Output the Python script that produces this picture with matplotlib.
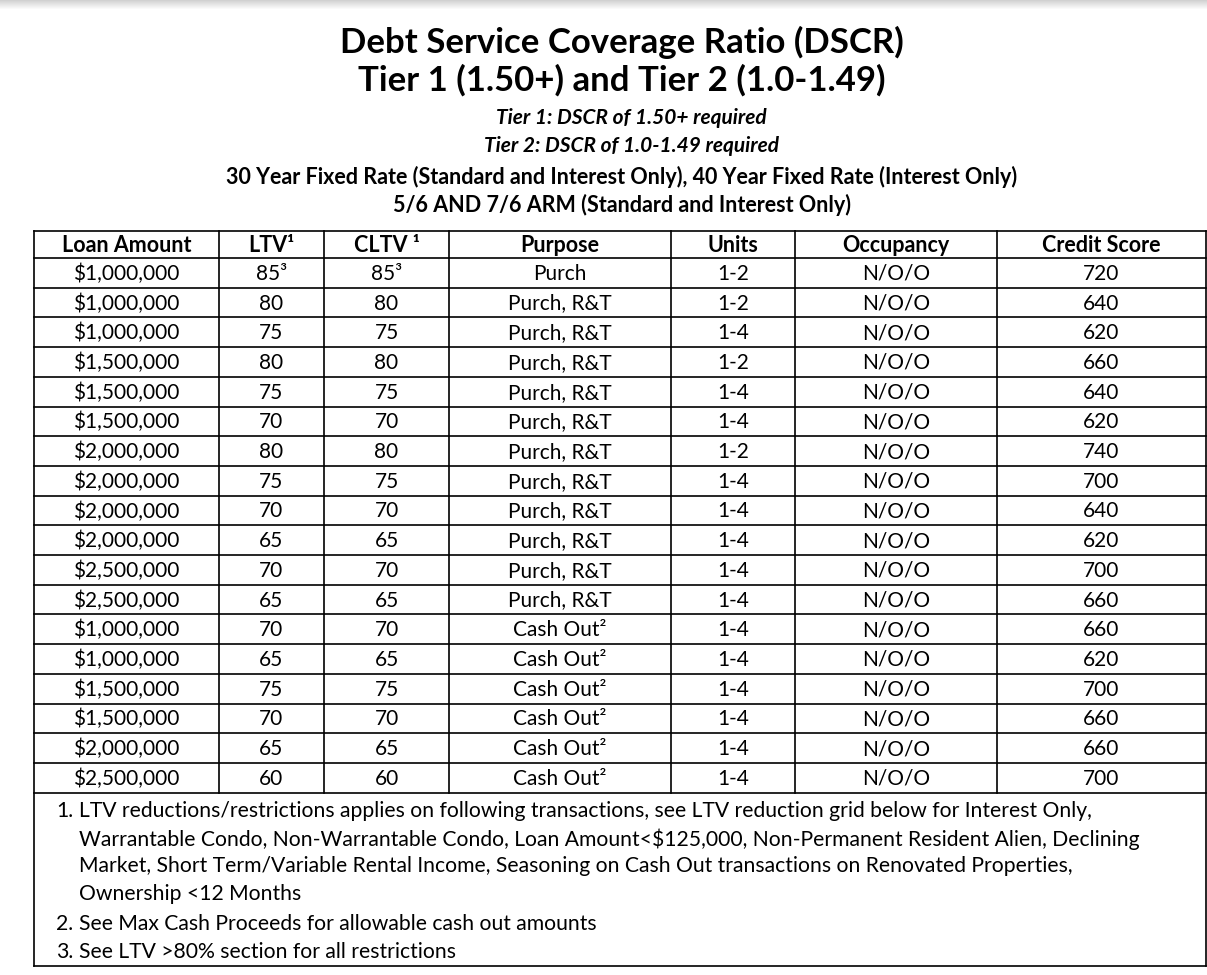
import matplotlib.pyplot as plt
import numpy as np

plt.rcParams['font.family'] = ['Lato', 'DejaVu Sans']
plt.rcParams['text.parse_math'] = False

# table data
headers = ["Loan Amount", "LTV¹", "CLTV ¹", "Purpose", "Units", "Occupancy", "Credit Score"]
loan_amounts = ["$1,000,000", "$1,000,000", "$1,000,000", "$1,500,000", "$1,500,000", "$1,500,000",
                "$2,000,000", "$2,000,000", "$2,000,000", "$2,000,000", "$2,500,000", "$2,500,000",
                "$1,000,000", "$1,000,000", "$1,500,000", "$1,500,000", "$2,000,000", "$2,500,000"]
ltv = ["85³", "80", "75", "80", "75", "70", "80", "75", "70", "65", "70", "65",
       "70", "65", "75", "70", "65", "60"]
cltv = ["85³", "80", "75", "80", "75", "70", "80", "75", "70", "65", "70", "65",
        "70", "65", "75", "70", "65", "60"]
purpose = ["Purch"] + ["Purch, R&T"] * 11 + ["Cash Out²"] * 6
units = ["1-2", "1-2", "1-4", "1-2", "1-4", "1-4", "1-2", "1-4", "1-4", "1-4", "1-4", "1-4",
         "1-4", "1-4", "1-4", "1-4", "1-4", "1-4"]
occupancy = ["N/O/O"] * 18
credit_score = ["720", "640", "620", "660", "640", "620", "740", "700", "640", "620", "700", "660",
                "660", "620", "700", "660", "660", "700"]

title_lines = ["Debt Service Coverage Ratio (DSCR)", "Tier 1 (1.50+) and Tier 2 (1.0-1.49)"]
tier_lines = ["Tier 1: DSCR of 1.50+ required", "Tier 2: DSCR of 1.0-1.49 required"]
product_lines = ["30 Year Fixed Rate (Standard and Interest Only), 40 Year Fixed Rate (Interest Only)",
                 "5/6 AND 7/6 ARM (Standard and Interest Only)"]
footnotes = [
    ("1.", "LTV reductions/restrictions applies on following transactions, see LTV reduction grid below for Interest Only,"),
    ("", "Warrantable Condo, Non-Warrantable Condo, Loan Amount<$125,000, Non-Permanent Resident Alien, Declining"),
    ("", "Market, Short Term/Variable Rental Income, Seasoning on Cash Out transactions on Renovated Properties,"),
    ("", "Ownership <12 Months"),
    ("2.", "See Max Cash Proceeds for allowable cash out amounts"),
    ("3.", "See LTV >80% section for all restrictions"),
]

# layout (pixels)
W, H = 1207, 975
col_edges = [34, 219, 324, 449, 671, 795, 997, 1206]
top = 231
header_h = 27
row_h = 29.7
foot_bottom = 966
foot_y = [811, 839, 866, 894, 924, 952]

fig = plt.figure(figsize=(W / 100, H / 100), dpi=100)
ax = fig.add_axes([0, 0, 1, 1])
ax.set_xlim(0, W)
ax.set_ylim(H, 0)
ax.axis('off')

# faint shadow strip on top
grad = np.linspace(0.82, 1.0, 10).reshape(-1, 1)
ax.imshow(grad, cmap='gray', vmin=0, vmax=1, extent=[0, W, 10, 0], aspect='auto', zorder=0)

# titles
ax.text(622, 42, title_lines[0], ha='center', va='center', fontsize=25, fontweight='bold')
ax.text(622, 80, title_lines[1], ha='center', va='center', fontsize=25, fontweight='bold')
for i, t in enumerate(tier_lines):
    ax.text(631, 118 + 28 * i, t, ha='center', va='center', fontsize=15,
            fontweight='bold', style='italic')
for i, t in enumerate(product_lines):
    ax.text(622, 177 + 28 * i, t, ha='center', va='center', fontsize=15.5, fontweight='bold')

# grid lines
n = len(loan_amounts)
row_tops = [top, top + header_h] + [top + header_h + row_h * (i + 1) for i in range(n)]
table_bottom = row_tops[-1]
for y in row_tops:
    ax.plot([col_edges[0], col_edges[-1]], [y, y], color='black', lw=1.2)
ax.plot([col_edges[0], col_edges[-1]], [foot_bottom, foot_bottom], color='black', lw=1.2)
for x in col_edges[1:-1]:
    ax.plot([x, x], [top, table_bottom], color='black', lw=1.2)
for x in (col_edges[0], col_edges[-1]):
    ax.plot([x, x], [top, foot_bottom], color='black', lw=1.2)

centers = [(col_edges[i] + col_edges[i + 1]) / 2 for i in range(len(col_edges) - 1)]

for c, h in zip(centers, headers):
    ax.text(c, top + header_h / 2 + 1, h, ha='center', va='center', fontsize=15.5, fontweight='bold')

columns = [loan_amounts, ltv, cltv, purpose, units, occupancy, credit_score]
for j, col in enumerate(columns):
    for i, val in enumerate(col):
        y = top + header_h + row_h * (i + 0.5) + 1
        ax.text(centers[j], y, val, ha='center', va='center', fontsize=15)

# footnotes
for (num, txt), y in zip(footnotes, foot_y):
    if num:
        ax.text(56, y, num, ha='left', va='center', fontsize=15.3)
    ax.text(79, y, txt, ha='left', va='center', fontsize=15.2)

fig.savefig('out.png', dpi=100)
